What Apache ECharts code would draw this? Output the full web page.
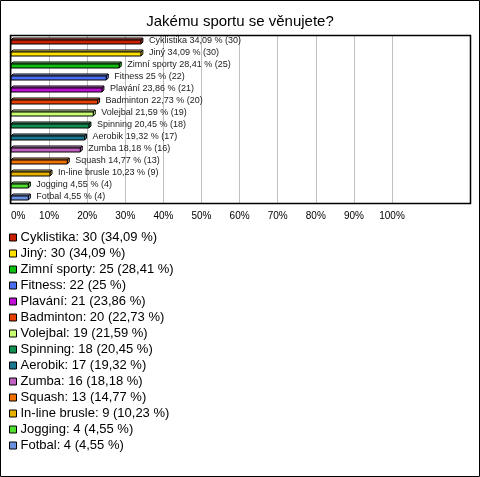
<!DOCTYPE html>
<html>
<head>
<meta charset="utf-8">
<script src="https://cdn.jsdelivr.net/npm/echarts@6/dist/echarts.min.js"></script>
<style>
  html, body { margin: 0; padding: 0; background: #fff; }
  #chart { width: 480px; height: 477px; }
</style>
</head>
<body>
<div id="chart"></div>
<script>
// survey answers (multiple choice, 88 respondents)
var categories = ['Cyklistika', 'Jiný', 'Zimní sporty', 'Fitness', 'Plavání', 'Badminton', 'Volejbal',
  'Spinning', 'Aerobik', 'Zumba', 'Squash', 'In-line brusle', 'Jogging', 'Fotbal']
var counts = [30, 30, 25, 22, 21, 20, 19, 18, 17, 16, 13, 9, 4, 4]
var percents = [34.09, 34.09, 28.41, 25, 23.86, 22.73, 21.59, 20.45, 19.32, 18.18, 14.77, 10.23, 4.55, 4.55]
var colors = ['#c82000', '#ffe000', '#10c010', '#4a6ef0', '#c010d8', '#e84000', '#c8ff70',
  '#109050', '#1a7890', '#c060c0', '#f07000', '#e8b000', '#50e030', '#6a90e0']
var xTicks = [0, 10, 20, 30, 40, 50, 60, 70, 80, 90, 100]

var FONT = '"Liberation Sans", Arial, sans-serif'

function fmtPct(v) {
  return String(v).replace('.', ',')
}

function lighten(hex, k) {
  var n = parseInt(hex.slice(1), 16)
  var r = (n >> 16) & 255, g = (n >> 8) & 255, b = n & 255
  r = Math.round(r + (255 - r) * k); g = Math.round(g + (255 - g) * k); b = Math.round(b + (255 - b) * k)
  return 'rgb(' + r + ',' + g + ',' + b + ')'
}

// 3d-ish bar: front face + top face + right face, label on the right
function renderBar(params, api) {
  var idx = api.value(1)
  var end = api.coord([api.value(0), idx])
  var start = api.coord([0, idx])
  var h = 4, d = 2
  var x0 = start[0], x1 = end[0]
  var y0 = end[1] - 1
  var col = api.visual('color')
  var i = params.seriesIndex
  return {
    type: 'group',
    children: [
      { type: 'polygon', shape: { points: [[x0, y0], [x0 + d, y0 - d], [x1 + d, y0 - d], [x1, y0]] },
        style: { fill: lighten(col, 0.35), stroke: '#000', lineWidth: 1 } },
      { type: 'polygon', shape: { points: [[x1, y0], [x1 + d, y0 - d], [x1 + d, y0 - d + h], [x1, y0 + h]] },
        style: { fill: lighten(col, 0.15), stroke: '#000', lineWidth: 1 } },
      { type: 'rect', shape: { x: x0, y: y0, width: x1 - x0, height: h },
        style: { fill: col, stroke: '#000', lineWidth: 1 } },
      { type: 'text', x: x1 + d + 6, y: end[1],
        style: { text: categories[i] + ' ' + fmtPct(percents[i]) + ' % (' + counts[i] + ')',
          fill: '#222', font: '9px ' + FONT, textVerticalAlign: 'middle' } }
    ]
  }
}

var series = categories.map(function (name, i) {
  return {
    type: 'custom',
    name: name,
    renderItem: renderBar,
    itemStyle: { color: colors[i] },
    data: [[percents[i], i]],
    encode: { x: 0, y: 1 },
    silent: true
  }
})

var chart = echarts.init(document.getElementById('chart'))
chart.setOption({
  animation: false,
  backgroundColor: '#fff',
  textStyle: { fontFamily: FONT },
  title: {
    text: 'Jakému sportu se věnujete?',
    left: 'center',
    top: 9,
    textStyle: { fontSize: 15, fontWeight: 'normal', color: '#000', fontFamily: FONT }
  },
  grid: { left: 11, right: 88, top: 35, bottom: 274, containLabel: false },
  xAxis: {
    type: 'value',
    min: xTicks[0],
    max: xTicks[xTicks.length - 1],
    interval: 10,
    axisLine: { show: false },
    axisTick: { show: false },
    splitLine: { show: true, lineStyle: { color: '#c0c0c0', width: 1 } },
    axisLabel: { formatter: '{value}%', color: '#000', fontSize: 10, margin: 8, fontFamily: FONT,
      alignMinLabel: 'left' }
  },
  yAxis: {
    type: 'category',
    data: categories,
    inverse: true,
    axisLine: { show: false },
    axisTick: { show: false },
    axisLabel: { show: false }
  },
  legend: {
    orient: 'vertical',
    left: 9,
    top: 231,
    padding: 0,
    itemGap: 3,
    itemWidth: 7,
    itemHeight: 7,
    icon: 'rect',
    selectedMode: false,
    itemStyle: { borderColor: '#000', borderWidth: 1 },
    textStyle: { fontSize: 13, color: '#000', fontFamily: FONT, padding: [0, 0, 0, -1] },
    formatter: function (name) {
      var i = categories.indexOf(name)
      return name + ': ' + counts[i] + ' (' + fmtPct(percents[i]) + ' %)'
    },
    data: categories
  },
  graphic: [
    { type: 'rect', shape: { x: 0.5, y: 0.5, width: 479, height: 476 },
      style: { fill: null, stroke: '#000', lineWidth: 1 }, silent: true },
    { type: 'rect', shape: { x: 10.5, y: 35.5, width: 460, height: 168 },
      style: { fill: null, stroke: '#000', lineWidth: 1.5 }, silent: true, z: 10 }
  ],
  series: series
})
</script>
</body>
</html>
